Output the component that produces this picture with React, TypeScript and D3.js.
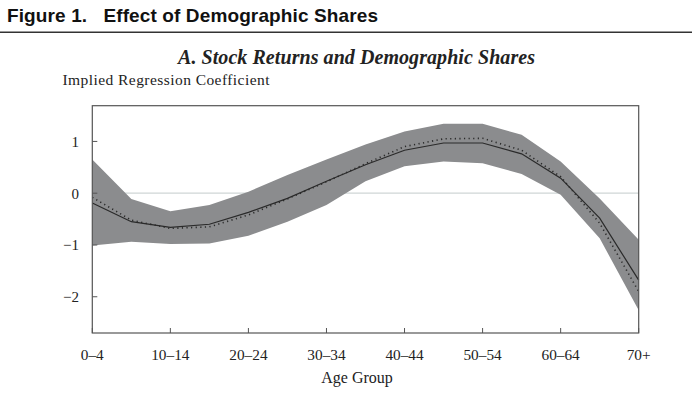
import React from "react";
import * as d3 from "d3";

const ageGroups = ["0–4","5–9","10–14","15–19","20–24","25–29","30–34","35–39","40–44","45–49","50–54","55–59","60–64","65–69","70+"];
const tickLabels = ["0–4","10–14","20–24","30–34","40–44","50–54","60–64","70+"];
const tickIndices = [0, 2, 4, 6, 8, 10, 12, 14];
const solidLine = [-0.19,-0.55,-0.66,-0.60,-0.37,-0.10,0.23,0.55,0.83,0.97,0.97,0.76,0.29,-0.48,-1.68];
const dottedLine = [-0.08,-0.52,-0.68,-0.65,-0.42,-0.11,0.22,0.57,0.90,1.05,1.06,0.83,0.32,-0.58,-1.90];
const bandUpper = [0.65,-0.11,-0.35,-0.23,0.03,0.35,0.65,0.94,1.19,1.34,1.34,1.13,0.61,-0.10,-0.90];
const bandLower = [-1.01,-0.94,-0.98,-0.97,-0.82,-0.55,-0.23,0.23,0.52,0.61,0.58,0.37,-0.03,-0.87,-2.26];
const yTicks = [1, 0, -1, -2];

export default function App() {
  const W = 698, H = 395;
  const left = 92.3, right = 638.7, top = 105.7, bottom = 333;
  const x = d3.scaleLinear().domain([0, ageGroups.length - 1]).range([left, right]);
  const y = d3.scaleLinear().domain([-2.70, 1.69]).range([bottom, top]);
  const idx = ageGroups.map((_, i) => i);
  const area = d3.area<number>().x(i => x(i)).y0(i => y(bandLower[i])).y1(i => y(bandUpper[i]));
  const line = (arr: number[]) => d3.line<number>().x(i => x(i)).y(i => y(arr[i]))(idx) || "";
  const serif = "'Liberation Serif', 'DejaVu Serif', serif";
  return (
    <svg width={W} height={H} style={{ position: "absolute", left: 0, top: 0, background: "#fff" }}>
      <text x={7} y={21.5} fontFamily="'Liberation Sans', Arial, sans-serif" fontWeight="bold" fontSize={19} fill="#111" textLength={371} lengthAdjust="spacing">
        Figure 1.{"\u00a0\u00a0\u00a0"}Effect of Demographic Shares
      </text>
      <line x1={0} x2={692} y1={32.3} y2={32.3} stroke="#333" strokeWidth={1.6} />
      <text x={178} y={63.5} fontFamily={serif} fontStyle="italic" fontWeight="bold" fontSize={20} fill="#222" textLength={357} lengthAdjust="spacing">
        A. Stock Returns and Demographic Shares
      </text>
      <text x={62.5} y={85} fontFamily={serif} fontSize={15.5} fill="#222" textLength={207} lengthAdjust="spacing">Implied Regression Coefficient</text>
      <line x1={left} x2={right} y1={y(0)} y2={y(0)} stroke="#cfd6d6" strokeWidth={1.2} />
      <path d={area(idx) || ""} fill="#8b8c8e" />
      <path d={line(solidLine)} fill="none" stroke="#2a2a2a" strokeWidth={1.2} />
      <path d={line(dottedLine)} fill="none" stroke="#2a2a2a" strokeWidth={1.6} strokeDasharray="1.2,3.4" />
      <rect x={left} y={top} width={right - left} height={bottom - top} fill="none" stroke="#555" strokeWidth={1.2} />
      {yTicks.map(t => (
        <g key={t}>
          <line x1={left} x2={left + 5} y1={y(t)} y2={y(t)} stroke="#555" strokeWidth={1} />
          <text x={79} y={y(t) + 5.3} textAnchor="end" fontFamily={serif} fontSize={15} fill="#222">
            {t < 0 ? "\u2212" + Math.abs(t) : String(t)}
          </text>
        </g>
      ))}
      {tickIndices.map((ti, k) => (
        <g key={ti}>
          <line x1={x(ti)} x2={x(ti)} y1={bottom} y2={bottom - 5} stroke="#555" strokeWidth={1} />
          <text x={x(ti)} y={360} textAnchor="middle" fontFamily={serif} fontSize={15.3} fill="#222">{tickLabels[k]}</text>
        </g>
      ))}
      <text x={357} y={383} textAnchor="middle" fontFamily={serif} fontSize={16} fill="#222">Age Group</text>
    </svg>
  );
}
